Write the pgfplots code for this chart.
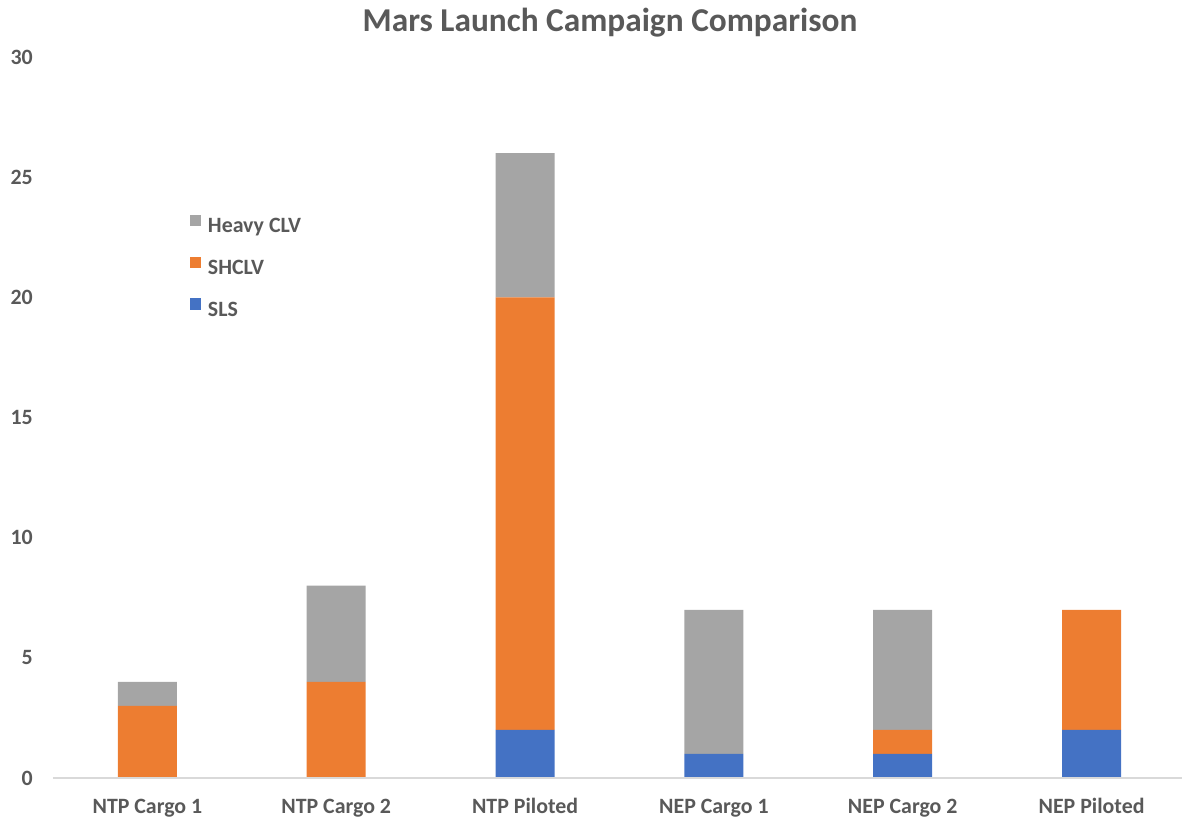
\documentclass[border=0pt]{standalone}
\usepackage{pgfplots}
\pgfplotsset{compat=1.18}
\usepackage{fontspec}
\setmainfont{Carlito}
\definecolor{slsblue}{HTML}{4472C4}
\definecolor{shorange}{HTML}{ED7D31}
\definecolor{hvgray}{HTML}{A5A5A5}
\definecolor{txtgray}{HTML}{595959}
\definecolor{basegray}{HTML}{D9D9D9}
\begin{document}
\begin{tikzpicture}
\useasboundingbox (-39.75pt,-30.75pt) rectangle (846.75pt,583.5pt);
\begin{axis}[
  scale only axis,
  width=846.75pt, height=540.75pt,
  ybar stacked, bar width=44.25pt, bar shift=0pt,
  xmin=-0.5, xmax=5.479,
  ymin=0, ymax=30,
  ytick={0,5,...,30},
  xtick={0,1,2,3,4,5},
  xticklabels={NTP Cargo 1,NTP Cargo 2,NTP Piloted,NEP Cargo 1,NEP Cargo 2,NEP Piloted},
  axis line style={draw=none},
  major tick length=0pt,
  /pgf/number format/assume math mode=true,
  tick label style={font=\fontsize{16.4}{19}\selectfont\bfseries, text=txtgray, inner sep=0pt},
  xticklabel style={anchor=north, text height=10.6pt, yshift=-15.75pt},
  yticklabel style={anchor=east, xshift=-15pt},
  legend style={at={(0.1213,0.781)}, anchor=north west, draw=none, fill=none,
    inner sep=0pt, outer sep=0pt, row sep=15pt, column sep=5pt,
    font=\fontsize{16.4}{19}\selectfont\bfseries, text=txtgray,
    nodes={inner sep=0pt, text height=12pt, text depth=3pt}},
  legend cell align=left,
  reverse legend,
  legend image code/.code={\fill[#1] (0pt,0.3pt) rectangle (8.5pt,8.8pt);},
]
\draw[basegray, line width=1.1pt] (rel axis cs:0,0) -- (rel axis cs:1,0);
\addplot[fill=slsblue, draw=none] coordinates {(0,0) (1,0) (2,2) (3,1) (4,1) (5,2)};
\addlegendentry{SLS}
\addplot[fill=shorange, draw=none] coordinates {(0,3) (1,4) (2,18) (3,0) (4,1) (5,5)};
\addlegendentry{SHCLV}
\addplot[fill=hvgray, draw=none] coordinates {(0,1) (1,4) (2,6) (3,6) (4,5) (5,0)};
\addlegendentry{Heavy CLV}
\end{axis}
\node[anchor=base, font=\fontsize{25}{30}\selectfont\bfseries, text=txtgray] at (417.75pt,560pt) {Mars Launch Campaign Comparison};
\end{tikzpicture}
\end{document}
